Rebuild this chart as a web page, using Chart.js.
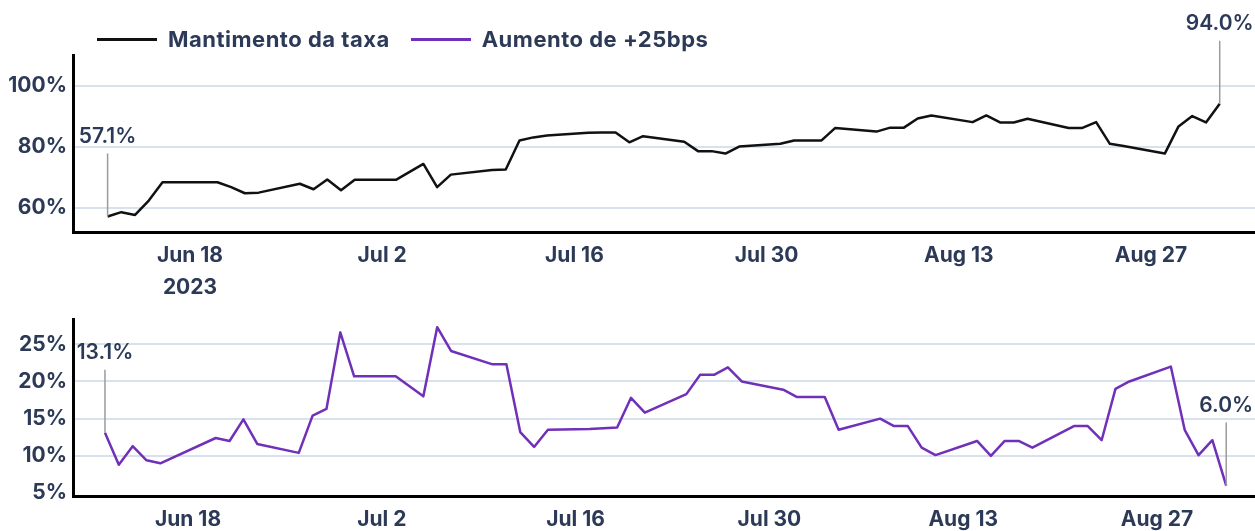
<!DOCTYPE html>
<html>
<head>
<meta charset="utf-8">
<script src="https://cdn.jsdelivr.net/npm/chart.js@4.4.0/dist/chart.umd.min.js"></script>
<style>
  html, body { margin: 0; padding: 0; background: #fff; }
  #wrap { position: relative; width: 1255px; height: 531px; overflow: hidden; font-family: Inter, sans-serif; }
  #legend { position: absolute; left: 97px; top: 26px; display: flex; align-items: center; color: #2c3a57; font-size: 22px; font-weight: 700; letter-spacing: 0.5px; }
  #legend .item { display: flex; align-items: center; margin-right: 21px; }
  #legend .swatch { width: 60px; height: 3px; margin-right: 11px; }
  #topChart { position: absolute; left: 0; top: 0; }
  #bottomChart { position: absolute; left: 0; top: 300px; }
</style>
</head>
<body>
<div id="wrap">
  <canvas id="topChart" width="1255" height="300"></canvas>
  <canvas id="bottomChart" width="1255" height="231"></canvas>
  <div id="legend"></div>
</div>
<script>
// trading days shown in both panels
const dates = [
  '2023-06-12', '2023-06-13', '2023-06-14', '2023-06-15', '2023-06-16',
  '2023-06-20', '2023-06-21', '2023-06-22', '2023-06-23',
  '2023-06-26', '2023-06-27', '2023-06-28', '2023-06-29', '2023-06-30',
  '2023-07-03',
  '2023-07-05', '2023-07-06', '2023-07-07',
  '2023-07-10', '2023-07-11', '2023-07-12', '2023-07-13', '2023-07-14',
  '2023-07-17', '2023-07-18', '2023-07-19', '2023-07-20', '2023-07-21',
  '2023-07-24', '2023-07-25', '2023-07-26', '2023-07-27', '2023-07-28',
  '2023-07-31',
  '2023-08-01', '2023-08-02', '2023-08-03', '2023-08-04',
  '2023-08-07', '2023-08-08', '2023-08-09', '2023-08-10', '2023-08-11',
  '2023-08-14', '2023-08-15', '2023-08-16', '2023-08-17', '2023-08-18',
  '2023-08-21', '2023-08-22', '2023-08-23', '2023-08-24', '2023-08-25',
  '2023-08-28', '2023-08-29', '2023-08-30', '2023-08-31',
  '2023-09-01'
];

// Mantimento da taxa (%)
const holdValues = [
  57.1, 58.5, 57.6, 62.3, 68.3,
  68.3, 66.7, 64.7, 64.9,
  67.8, 66.0, 69.2, 65.7, 69.1,
  69.1,
  74.3, 66.7, 70.8,
  72.3, 72.5, 82.0, 83.0, 83.6,
  84.5, 84.6, 84.6, 81.4, 83.4,
  81.6, 78.5, 78.5, 77.7, 80.0,
  80.9,
  82.0, 82.0, 82.0, 86.1,
  84.9, 86.2, 86.2, 89.2, 90.2,
  88.0, 90.2, 87.9, 87.9, 89.1,
  86.1, 86.1, 88.0, 80.9, 80.2,
  77.7, 86.6, 90.0, 87.9,
  94.0
];

// Aumento de +25bps (%)
const hikeValues = [
  13.1, 8.8, 11.3, 9.4, 9.0,
  12.4, 12.0, 14.9, 11.6,
  10.4, 15.4, 16.3, 26.6, 20.7,
  20.7,
  18.0, 27.3, 24.1,
  22.3, 22.3, 13.2, 11.2, 13.5,
  13.6, 13.7, 13.8, 17.8, 15.8,
  18.3, 20.9, 20.9, 21.9, 20.0,
  18.9,
  17.9, 17.9, 17.9, 13.5,
  15.0, 14.0, 14.0, 11.1, 10.1,
  12.0, 10.0, 12.0, 12.0, 11.1,
  14.0, 14.0, 12.1, 19.0, 20.0,
  22.0, 13.5, 10.1, 12.1,
  6.0
];

const seriesNames = ['Mantimento da taxa', 'Aumento de +25bps'];
const seriesColors = ['#111111', '#7030b8'];

const tickDates = ['2023-06-18', '2023-07-02', '2023-07-16', '2023-07-30', '2023-08-13', '2023-08-27'];
const tickLabels = ['Jun 18', 'Jul 2', 'Jul 16', 'Jul 30', 'Aug 13', 'Aug 27'];
const yearLabel = '2023';

const topYTicks = [60, 80, 100];
const bottomYTicks = [5, 10, 15, 20, 25];

const textColor = '#2c3a57';
const gridColor = '#d8e1ed';
const FONT = 'Inter, sans-serif';

// days relative to the first tick (Jun 18)
function dayOf(s) {
  const p = s.split('-').map(Number);
  return (Date.UTC(p[0], p[1] - 1, p[2]) - Date.UTC(2023, 5, 18)) / 86400000;
}
const tickDays = tickDates.map(dayOf);

function toPoints(values) {
  return values.map((v, i) => ({ x: dayOf(dates[i]), y: v }));
}

const endLabels = {
  id: 'endLabels',
  afterDatasetsDraw(chart) {
    const pts = chart.getDatasetMeta(0).data;
    const vals = chart.data.datasets[0].data;
    const ctx = chart.ctx;
    [0, pts.length - 1].forEach(i => {
      const p = pts[i];
      ctx.save();
      ctx.strokeStyle = '#9b9b9b';
      ctx.lineWidth = 1.5;
      ctx.beginPath();
      ctx.moveTo(p.x, p.y);
      ctx.lineTo(p.x, p.y - 63);
      ctx.stroke();
      ctx.fillStyle = textColor;
      ctx.font = '600 21px ' + FONT;
      ctx.textAlign = 'center';
      ctx.textBaseline = 'middle';
      ctx.fillText(vals[i].y.toFixed(1) + '%', p.x, p.y - 80);
      ctx.restore();
    });
  }
};

function makeChart(id, opts) {
  return new Chart(document.getElementById(id), {
    type: 'line',
    data: {
      datasets: [{
        label: opts.name,
        data: toPoints(opts.values),
        borderColor: opts.color,
        backgroundColor: opts.color,
        borderWidth: 2.5,
        borderJoinStyle: 'round',
        pointRadius: 0,
        tension: 0,
      }],
    },
    options: {
      responsive: false,
      animation: false,
      devicePixelRatio: 1,
      layout: { padding: { top: opts.padTop, left: 0, right: 0, bottom: 0 } },
      plugins: { legend: { display: false }, tooltip: { enabled: false } },
      scales: {
        x: {
          type: 'linear',
          min: opts.xMin,
          max: opts.xMax,
          grid: { display: false, drawTicks: false },
          border: { display: true, color: '#000', width: 3 },
          afterBuildTicks: scale => { scale.ticks = tickDays.map(v => ({ value: v })); },
          afterFit: scale => { scale.height = opts.xHeight; },
          ticks: {
            autoSkip: false,
            maxRotation: 0,
            padding: 7,
            color: textColor,
            font: { family: FONT, size: 21, weight: '700', lineHeight: 1.55 },
            callback: (value, index) => {
              const lbl = tickLabels[index];
              return (opts.showYear && index === 0) ? [lbl, yearLabel] : lbl;
            },
          },
        },
        y: {
          min: opts.yMin,
          max: opts.yMax,
          grid: {
            drawTicks: false,
            lineWidth: 2,
            color: c => (c.tick && c.tick.value === 5) ? 'rgba(0,0,0,0)' : gridColor,
          },
          border: { display: true, color: '#000', width: 3 },
          afterBuildTicks: scale => { scale.ticks = opts.yTicks.map(v => ({ value: v })); },
          afterFit: scale => { scale.width = 73; },
          ticks: {
            padding: 6,
            color: textColor,
            font: { family: FONT, size: 21, weight: '700' },
            callback: v => v + '%',
          },
        },
      },
    },
    plugins: [endLabels],
  });
}

makeChart('topChart', {
  name: seriesNames[0], color: seriesColors[0], values: holdValues,
  padTop: 55, xHeight: 68, xMin: -8.52, xMax: 77.57,
  yMin: 52, yMax: 110, yTicks: topYTicks, showYear: true,
});

makeChart('bottomChart', {
  name: seriesNames[1], color: seriesColors[1], values: hikeValues,
  padTop: 19, xHeight: 35, xMin: -8.31, xMax: 77.08,
  yMin: 4.6, yMax: 28.4, yTicks: bottomYTicks, showYear: false,
});

// shared legend
const legend = document.getElementById('legend');
seriesNames.forEach((name, i) => {
  const item = document.createElement('div');
  item.className = 'item';
  const sw = document.createElement('span');
  sw.className = 'swatch';
  sw.style.background = seriesColors[i];
  const txt = document.createElement('span');
  txt.textContent = name;
  item.appendChild(sw);
  item.appendChild(txt);
  legend.appendChild(item);
});
</script>
</body>
</html>
